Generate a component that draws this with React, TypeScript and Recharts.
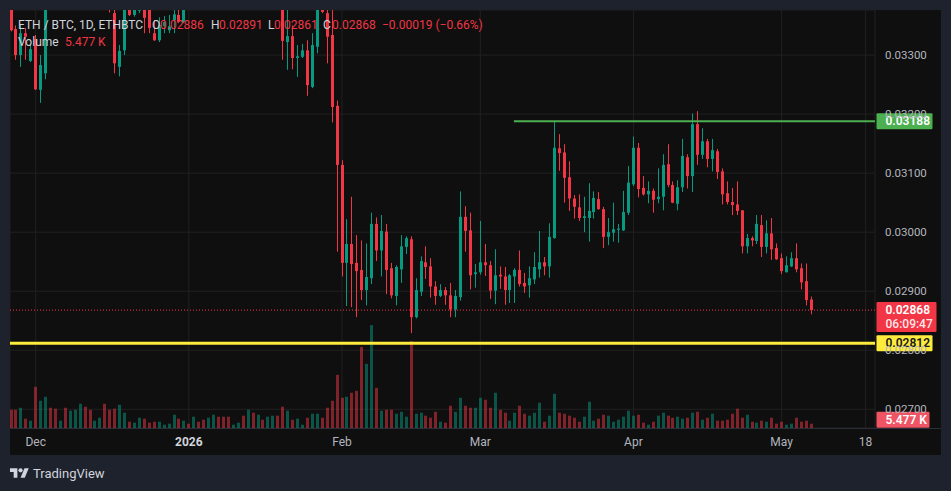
import React from 'react';
import { ComposedChart, Bar, XAxis, YAxis, CartesianGrid, ReferenceLine } from 'recharts';

// Daily candles from 2025-11-26 (index 0) to 2026-05-07 (index 162)
const opens = [
  0.03410, 0.03344, 0.03300, 0.03337, 0.03290, 0.03327, 0.03241, 0.03269, 0.03392, 0.03388,
  0.03384, 0.03430, 0.03410, 0.03450, 0.03470, 0.03495, 0.03460, 0.03430, 0.03445, 0.03455,
  0.03410, 0.03371, 0.03280, 0.03308, 0.03390, 0.03368, 0.03375, 0.03395, 0.03380, 0.03337,
  0.03325, 0.03349, 0.03342, 0.03359, 0.03368, 0.03356, 0.03390, 0.03386, 0.03432, 0.03415,
  0.03400, 0.03428, 0.03462, 0.03448, 0.03430, 0.03412, 0.03420, 0.03432, 0.03405, 0.03450,
  0.03420, 0.03445, 0.03430, 0.03446, 0.03460, 0.03400, 0.03322, 0.03332, 0.03295, 0.03297,
  0.03308, 0.03246, 0.03314, 0.03410, 0.03371, 0.03334, 0.03214, 0.03114, 0.02948, 0.02980,
  0.02948, 0.02936, 0.02902, 0.02922, 0.03014, 0.02969, 0.03001, 0.02939, 0.02892, 0.02937,
  0.02975, 0.02988, 0.02856, 0.02899, 0.02949, 0.02942, 0.02908, 0.02892, 0.02902, 0.02893,
  0.02869, 0.02890, 0.03026, 0.03003, 0.02929, 0.02932, 0.02949, 0.02944, 0.02901, 0.02928,
  0.02925, 0.02902, 0.02925, 0.02936, 0.02914, 0.02910, 0.02920, 0.02937, 0.02949, 0.02942,
  0.02990, 0.03142, 0.03135, 0.03093, 0.03057, 0.03042, 0.03024, 0.03024, 0.03034, 0.03056,
  0.03039, 0.02992, 0.02999, 0.03004, 0.03003, 0.03033, 0.03081, 0.03143, 0.03075, 0.03064,
  0.03070, 0.03056, 0.03060, 0.03115, 0.03080, 0.03048, 0.03076, 0.03127, 0.03095, 0.03183,
  0.03131, 0.03154, 0.03124, 0.03137, 0.03103, 0.03066, 0.03051, 0.03047, 0.03037, 0.02976,
  0.02990, 0.02985, 0.03012, 0.02975, 0.02998, 0.02973, 0.02956, 0.02932, 0.02942, 0.02956,
  0.02939, 0.02917, 0.02886,
];
const highs = [
  0.03420, 0.03350, 0.03351, 0.03346, 0.03317, 0.03334, 0.03300, 0.03400, 0.03420, 0.03398,
  0.03440, 0.03445, 0.03460, 0.03480, 0.03510, 0.03505, 0.03470, 0.03450, 0.03470, 0.03462,
  0.03430, 0.03385, 0.03317, 0.03410, 0.03410, 0.03410, 0.03420, 0.03410, 0.03400, 0.03359,
  0.03364, 0.03366, 0.03368, 0.03380, 0.03380, 0.03400, 0.03405, 0.03440, 0.03440, 0.03425,
  0.03435, 0.03470, 0.03475, 0.03455, 0.03440, 0.03425, 0.03438, 0.03440, 0.03460, 0.03462,
  0.03455, 0.03450, 0.03452, 0.03470, 0.03465, 0.03405, 0.03380, 0.03350, 0.03317, 0.03319,
  0.03325, 0.03337, 0.03410, 0.03430, 0.03380, 0.03380, 0.03223, 0.03122, 0.03022, 0.03060,
  0.02995, 0.02986, 0.02981, 0.03033, 0.03025, 0.03029, 0.03014, 0.02948, 0.02944, 0.02995,
  0.02993, 0.02993, 0.02922, 0.02959, 0.02976, 0.02956, 0.02917, 0.02912, 0.02907, 0.02914,
  0.02902, 0.03069, 0.03044, 0.03033, 0.02946, 0.03019, 0.02980, 0.02951, 0.02971, 0.02942,
  0.02941, 0.02929, 0.02939, 0.02969, 0.02931, 0.02942, 0.02966, 0.03002, 0.02958, 0.03015,
  0.03187, 0.03166, 0.03149, 0.03120, 0.03063, 0.03064, 0.03060, 0.03083, 0.03069, 0.03068,
  0.03043, 0.03024, 0.03050, 0.03014, 0.03070, 0.03112, 0.03162, 0.03151, 0.03095, 0.03086,
  0.03074, 0.03108, 0.03132, 0.03149, 0.03086, 0.03088, 0.03158, 0.03132, 0.03201, 0.03205,
  0.03176, 0.03158, 0.03158, 0.03141, 0.03108, 0.03086, 0.03075, 0.03086, 0.03037, 0.02997,
  0.02993, 0.03029, 0.03029, 0.03020, 0.03024, 0.02981, 0.02964, 0.02959, 0.02966, 0.02981,
  0.02947, 0.02947, 0.02891,
];
const lows = [
  0.03340, 0.03292, 0.03280, 0.03292, 0.03288, 0.03241, 0.03219, 0.03259, 0.03383, 0.03380,
  0.03381, 0.03400, 0.03405, 0.03440, 0.03455, 0.03450, 0.03420, 0.03420, 0.03435, 0.03400,
  0.03372, 0.03269, 0.03264, 0.03300, 0.03366, 0.03365, 0.03371, 0.03337, 0.03337, 0.03324,
  0.03322, 0.03337, 0.03337, 0.03337, 0.03354, 0.03354, 0.03382, 0.03384, 0.03410, 0.03395,
  0.03395, 0.03420, 0.03440, 0.03425, 0.03405, 0.03408, 0.03415, 0.03400, 0.03400, 0.03415,
  0.03412, 0.03425, 0.03425, 0.03440, 0.03395, 0.03292, 0.03275, 0.03276, 0.03263, 0.03295,
  0.03231, 0.03244, 0.03303, 0.03371, 0.03286, 0.03186, 0.02967, 0.02925, 0.02875, 0.02873,
  0.02856, 0.02885, 0.02876, 0.02912, 0.02951, 0.02925, 0.02895, 0.02888, 0.02876, 0.02914,
  0.02963, 0.02829, 0.02854, 0.02892, 0.02921, 0.02889, 0.02877, 0.02890, 0.02877, 0.02856,
  0.02856, 0.02884, 0.02967, 0.02903, 0.02906, 0.02928, 0.02926, 0.02887, 0.02878, 0.02904,
  0.02877, 0.02880, 0.02880, 0.02908, 0.02897, 0.02889, 0.02912, 0.02923, 0.02927, 0.02923,
  0.02989, 0.03104, 0.03050, 0.03036, 0.03023, 0.03019, 0.03000, 0.02984, 0.03023, 0.03038,
  0.02973, 0.02978, 0.02984, 0.02982, 0.03002, 0.03029, 0.03078, 0.03059, 0.03062, 0.03049,
  0.03033, 0.03049, 0.03037, 0.03076, 0.03049, 0.03037, 0.03068, 0.03074, 0.03068, 0.03114,
  0.03124, 0.03110, 0.03103, 0.03090, 0.03047, 0.03047, 0.03029, 0.03029, 0.02964, 0.02964,
  0.02976, 0.02980, 0.02958, 0.02964, 0.02953, 0.02953, 0.02929, 0.02932, 0.02941, 0.02932,
  0.02903, 0.02876, 0.02861,
];
const closes = [
  0.03342, 0.03300, 0.03337, 0.03331, 0.03310, 0.03242, 0.03283, 0.03392, 0.03388, 0.03384,
  0.03430, 0.03410, 0.03450, 0.03470, 0.03495, 0.03460, 0.03430, 0.03445, 0.03455, 0.03410,
  0.03380, 0.03286, 0.03307, 0.03390, 0.03368, 0.03390, 0.03400, 0.03363, 0.03346, 0.03325,
  0.03351, 0.03356, 0.03349, 0.03369, 0.03356, 0.03390, 0.03386, 0.03432, 0.03415, 0.03400,
  0.03428, 0.03462, 0.03448, 0.03430, 0.03412, 0.03420, 0.03432, 0.03405, 0.03450, 0.03420,
  0.03445, 0.03430, 0.03446, 0.03460, 0.03400, 0.03324, 0.03332, 0.03295, 0.03298, 0.03308,
  0.03249, 0.03317, 0.03390, 0.03373, 0.03331, 0.03212, 0.03114, 0.02948, 0.02980, 0.02946,
  0.02934, 0.02902, 0.02924, 0.03014, 0.02969, 0.03002, 0.02936, 0.02893, 0.02941, 0.02976,
  0.02990, 0.02856, 0.02902, 0.02951, 0.02941, 0.02908, 0.02892, 0.02902, 0.02893, 0.02869,
  0.02892, 0.03026, 0.03002, 0.02927, 0.02932, 0.02949, 0.02944, 0.02901, 0.02927, 0.02925,
  0.02902, 0.02927, 0.02936, 0.02912, 0.02908, 0.02922, 0.02941, 0.02949, 0.02942, 0.02992,
  0.03143, 0.03134, 0.03092, 0.03057, 0.03043, 0.03024, 0.03027, 0.03036, 0.03058, 0.03039,
  0.02992, 0.03000, 0.03005, 0.03006, 0.03034, 0.03084, 0.03143, 0.03073, 0.03064, 0.03070,
  0.03055, 0.03060, 0.03114, 0.03080, 0.03050, 0.03076, 0.03129, 0.03095, 0.03183, 0.03131,
  0.03154, 0.03124, 0.03139, 0.03102, 0.03064, 0.03051, 0.03046, 0.03036, 0.02976, 0.02990,
  0.02986, 0.03014, 0.02975, 0.02998, 0.02971, 0.02954, 0.02934, 0.02944, 0.02956, 0.02937,
  0.02915, 0.02885, 0.02868,
];
// Volume in thousands
const volumes = [
  23.3, 23.3, 25.8, 11.9, 9.3, 52.5, 34.7, 39.8, 25.8, 24.6,
  9.3, 25.8, 22.0, 23.3, 30.9, 27.1, 23.3, 9.3, 13.1, 30.9,
  23.3, 24.6, 29.6, 19.5, 8.0, 6.8, 13.1, 11.9, 6.8, 8.0,
  8.0, 4.2, 5.5, 16.9, 11.9, 9.3, 5.5, 14.4, 8.0, 10.6,
  13.1, 16.9, 14.4, 14.4, 14.4, 4.2, 6.8, 15.7, 23.3, 19.5,
  16.9, 10.6, 14.4, 15.7, 15.7, 27.1, 22.0, 10.6, 11.9, 4.2,
  13.1, 18.2, 18.2, 13.1, 25.8, 34.7, 67.7, 38.5, 39.8, 44.9,
  47.4, 103.3, 81.7, 131.2, 51.2, 22.0, 23.3, 23.3, 18.2, 20.7,
  14.4, 110.6, 18.2, 19.5, 15.7, 13.1, 20.7, 8.0, 6.8, 28.4,
  20.7, 38.5, 28.4, 25.8, 25.8, 38.5, 36.0, 25.8, 44.9, 23.3,
  19.5, 9.3, 19.5, 28.4, 18.2, 15.7, 19.5, 32.2, 8.0, 15.7,
  43.6, 19.5, 18.2, 15.7, 13.1, 8.0, 14.4, 33.5, 9.3, 11.9,
  16.9, 15.7, 8.0, 10.6, 14.4, 22.0, 15.7, 16.9, 6.8, 4.2,
  8.0, 15.7, 19.5, 15.7, 13.1, 14.4, 11.9, 13.1, 19.5, 20.7,
  10.6, 13.1, 18.2, 9.3, 9.3, 10.6, 18.2, 24.6, 13.1, 16.9,
  8.0, 6.8, 9.3, 8.0, 13.1, 5.5, 8.0, 4.2, 5.5, 13.1,
  8.0, 9.3, 5.477,
];

const tickDays = [5, 36, 67, 95, 126, 156, 173];
const tickLabels = ['Dec', '2026', 'Feb', 'Mar', 'Apr', 'May', '18'];
const yearTicks = ['2026'];
const priceTicks = [0.027, 0.028, 0.029, 0.03, 0.031, 0.032, 0.033];

const resistance = 0.03188;
const resistanceStartDay = 101.8;
const support = 0.02812;
const lastPrice = 0.02868;
const lastVolume = 5.477;
const countdown = '06:09:47';
const lastVolumeText = '5.477 K';
const symbolTitle = 'ETH / BTC, 1D, ETHBTC';
const legendO = '0.02886';
const legendH = '0.02891';
const legendL = '0.02861';
const legendC = '0.02868';
const legendChange = '\u22120.00019 (\u22120.66%)';

const data = opens.map((o, i) => ({
  day: i,
  open: o,
  high: highs[i],
  low: lows[i],
  close: closes[i],
  range: [lows[i], highs[i]],
  volume: volumes[i],
}));

const UP = '#089981';
const DOWN = '#f23645';
const FONT = 'Roboto, "Noto Sans", sans-serif';
const AXIS_TEXT = '#b2b5be';

function CandleShape(props: any) {
  const { x, y, width, height, payload } = props;
  if (x == null || y == null || !payload) return null;
  const { open, close, high, low } = payload;
  const color = close >= open ? UP : DOWN;
  const top = Math.min(y, y + height);
  const h = Math.abs(height);
  const span = high - low;
  const toY = (v: number) => (span > 0 ? top + ((high - v) / span) * h : top);
  const cx = Math.round(x + width / 2);
  const bTop = toY(Math.max(open, close));
  const bBot = toY(Math.min(open, close));
  return (
    <g>
      <rect x={cx} y={top} width={1} height={Math.max(h, 1)} fill={color} />
      <rect x={cx - 1} y={bTop} width={3} height={Math.max(bBot - bTop, 1)} fill={color} />
    </g>
  );
}

function VolumeShape(props: any) {
  const { x, y, width, height, payload } = props;
  if (x == null || y == null || !payload) return null;
  const color = payload.close >= payload.open ? UP : DOWN;
  const cx = Math.round(x + width / 2);
  return <rect x={cx - 1} y={y} width={3} height={Math.max(height, 0)} fill={color} fillOpacity={0.5} />;
}

function PriceTick(props: any) {
  const { x, y, payload } = props;
  return (
    <text x={x + 10} y={y} dy={4} fill={AXIS_TEXT} fontSize={11.5} fontFamily={FONT} textAnchor="start">
      {Number(payload.value).toFixed(5)}
    </text>
  );
}

function TimeTick(props: any) {
  const { x, payload } = props;
  const idx = tickDays.indexOf(payload.value);
  const label = tickLabels[idx] ?? '';
  const bold = yearTicks.includes(label);
  return (
    <text x={x} y={445.5} fill={bold ? '#d1d4dc' : AXIS_TEXT} fontSize={12} fontWeight={bold ? 700 : 400} fontFamily={FONT} textAnchor="middle">
      {label}
    </text>
  );
}

function Tag(props: any) {
  const { viewBox, text, sub, bg, fg, w, shift } = props;
  if (!viewBox) return null;
  const x = viewBox.x + viewBox.width + 1.5;
  const cy = viewBox.y + (shift || 0);
  const h = sub ? 30 : 16;
  const top = cy - 8;
  return (
    <g>
      <rect x={x} y={top} width={w} height={h} fill={bg} rx={1} />
      <text x={x + 9} y={cy + 4.3} fill={fg} fontSize={12} fontWeight={600} fontFamily={FONT}>
        {text}
      </text>
      {sub ? (
        <text x={x + 9} y={cy + 17.8} fill={fg} fillOpacity={0.9} fontSize={12} fontWeight={500} fontFamily={FONT}>
          {sub}
        </text>
      ) : null}
    </g>
  );
}

function Logo() {
  return (
    <svg width={19} height={15} viewBox="0 0 36 28" style={{ position: 'absolute', left: 10, top: 466 }}>
      <path d="M14 22H7V11H0V4h14v18z" fill="#d1d4dc" />
      <circle cx="20" cy="8" r="4" fill="#d1d4dc" />
      <path d="M28 22h-8l7.5-18h8L28 22z" fill="#d1d4dc" />
    </svg>
  );
}

const span = (left: number, top: number, color: string, text: string, extra: any = {}) => (
  <span
    style={{
      position: 'absolute',
      left,
      top,
      color,
      fontSize: 12,
      lineHeight: '14px',
      fontFamily: FONT,
      whiteSpace: 'nowrap',
      ...extra,
    }}
  >
    {text}
  </span>
);

export default function App() {
  return (
    <div
      style={{
        position: 'absolute',
        left: 0,
        top: 0,
        width: 951,
        height: 491,
        background: '#1e222d',
        overflow: 'hidden',
        fontFamily: FONT,
      }}
    >
      <div style={{ position: 'absolute', left: 10, top: 10, width: 931, height: 445, background: '#0f0f0f' }} />
      <div style={{ position: 'absolute', left: 0, top: 0 }}>
        <ComposedChart width={951} height={491} data={data} margin={{ top: 10, right: 10, bottom: 36, left: 10 }}>
          <CartesianGrid xAxisId="px" yAxisId="py" stroke="#212121" strokeWidth={1} />
          <XAxis
            xAxisId="px"
            dataKey="day"
            type="number"
            domain={[-0.2, 174.9]}
            allowDataOverflow
            ticks={tickDays}
            interval={0}
            height={27}
            axisLine={false}
            tickLine={false}
            tick={TimeTick}
          />
          <XAxis xAxisId="vx" dataKey="day" type="number" domain={[-0.2, 174.9]} allowDataOverflow hide />
          <YAxis
            yAxisId="py"
            orientation="right"
            type="number"
            domain={[0.026683, 0.033763]}
            allowDataOverflow
            ticks={priceTicks}
            interval={0}
            width={66}
            tickSize={0}
            tickMargin={0}
            axisLine={false}
            tickLine={false}
            tick={PriceTick}
          />
          <YAxis yAxisId="vy" type="number" domain={[0, (m: number) => m * 4.06]} hide />
          <Bar
            xAxisId="vx"
            yAxisId="vy"
            dataKey="volume"
            barSize={4}
            shape={VolumeShape}
            isAnimationActive={false}
          />
          <Bar
            xAxisId="px"
            yAxisId="py"
            dataKey="range"
            barSize={4}
            shape={CandleShape}
            isAnimationActive={false}
          />
          <ReferenceLine
            xAxisId="px"
            yAxisId="py"
            segment={[
              { x: resistanceStartDay, y: resistance },
              { x: 174.9, y: resistance },
            ]}
            stroke="#4caf50"
            strokeWidth={2}
          />
          <ReferenceLine xAxisId="px" yAxisId="py" y={support} stroke="#ffeb3b" strokeWidth={3} />
          <ReferenceLine xAxisId="px" yAxisId="py" y={lastPrice} stroke="#f23645" strokeWidth={1} strokeDasharray="1 2" />
          <ReferenceLine
            xAxisId="px"
            yAxisId="py"
            y={resistance}
            strokeOpacity={0}
            label={<Tag text={resistance.toFixed(5)} bg="#4caf50" fg="#ffffff" w={56} />}
          />
          <ReferenceLine
            xAxisId="px"
            yAxisId="py"
            y={support}
            strokeOpacity={0}
            label={<Tag text={support.toFixed(5)} bg="#ffeb3b" fg="#131722" w={56} />}
          />
          <ReferenceLine
            xAxisId="px"
            yAxisId="py"
            y={lastPrice}
            strokeOpacity={0}
            label={<Tag text={lastPrice.toFixed(5)} sub={countdown} bg="#f23645" fg="#ffffff" w={60} />}
          />
          <ReferenceLine
            xAxisId="vx"
            yAxisId="vy"
            y={lastVolume}
            strokeOpacity={0}
            label={<Tag text={lastVolumeText} bg="#ef5464" fg="#ffffff" w={53} shift={-4} />}
          />
        </ComposedChart>
      </div>
      <div style={{ position: 'absolute', left: 10, top: 428, width: 931, height: 1, background: '#2a2e39' }} />
      {span(18, 18, '#d1d4dc', symbolTitle)}
      {span(152, 18, '#d1d4dc', 'O')}
      {span(160, 18, DOWN, legendO)}
      {span(211, 18, '#d1d4dc', 'H')}
      {span(219, 18, DOWN, legendH)}
      {span(268, 18, '#d1d4dc', 'L')}
      {span(274, 18, DOWN, legendL)}
      {span(323, 18, '#d1d4dc', 'C')}
      {span(332, 18, DOWN, legendC)}
      {span(382, 18, DOWN, legendChange)}
      {span(18, 35, '#d1d4dc', 'Volume')}
      {span(65, 35, DOWN, lastVolumeText)}
      <Logo />
      {span(33, 466, '#d1d4dc', 'TradingView', { fontSize: 13, lineHeight: '15px' })}
    </div>
  );
}
